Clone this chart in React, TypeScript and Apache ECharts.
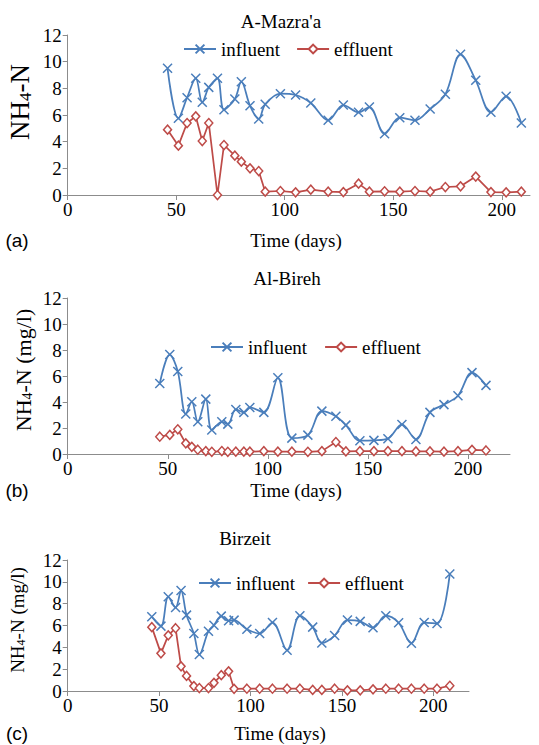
import React, { useEffect, useRef } from "react";
import * as echarts from "echarts";

const days = [46, 51, 55, 59, 62, 65, 69, 72, 77, 80, 84, 88, 91, 98, 105, 112, 120, 127, 134, 139, 146, 153, 160, 167, 174, 181, 188, 195, 202, 209];
const xTicks = [0, 50, 100, 150, 200];

const mazraaInfluent = [9.5, 5.75, 7.3, 8.75, 6.95, 8.07, 8.75, 6.4, 7.2, 8.5, 6.7, 5.7, 6.8, 7.6, 7.5, 6.9, 5.6, 6.75, 6.2, 6.6, 4.6, 5.8, 5.6, 6.45, 7.55, 10.55, 8.6, 6.2, 7.4, 5.4];
const mazraaEffluent = [4.9, 3.7, 5.4, 5.9, 4.05, 5.4, 0, 3.75, 2.95, 2.5, 2.0, 1.8, 0.25, 0.3, 0.2, 0.4, 0.25, 0.22, 0.85, 0.25, 0.28, 0.25, 0.3, 0.25, 0.6, 0.65, 1.38, 0.22, 0.2, 0.25];

const birehInfluent = [5.42, 7.65, 6.35, 3.07, 4.02, 2.48, 4.22, 1.84, 2.48, 2.3, 3.43, 3.2, 3.58, 3.2, 5.86, 1.22, 1.45, 3.3, 2.9, 2.22, 1.02, 1.05, 1.18, 2.27, 1.12, 3.2, 3.8, 4.48, 6.26, 5.28];
const birehEffluent = [1.33, 1.47, 1.9, 0.82, 0.55, 0.33, 0.22, 0.17, 0.23, 0.17, 0.18, 0.18, 0.18, 0.22, 0.18, 0.18, 0.17, 0.22, 0.92, 0.2, 0.22, 0.22, 0.22, 0.22, 0.2, 0.2, 0.18, 0.22, 0.32, 0.27];

const birzeitInfluent = [6.8, 5.94, 8.63, 7.65, 9.2, 6.95, 5.27, 3.34, 5.48, 6.03, 6.86, 6.43, 6.49, 5.66, 5.27, 6.27, 3.73, 6.9, 5.85, 4.4, 5.08, 6.5, 6.38, 5.8, 6.9, 6.25, 4.38, 6.27, 6.18, 10.72];
const birzeitEffluent = [5.85, 3.45, 5.1, 5.75, 2.26, 1.38, 0.45, 0.27, 0.27, 0.75, 1.45, 1.8, 0.2, 0.21, 0.21, 0.21, 0.21, 0.21, 0.1, 0.1, 0.21, 0.06, 0.06, 0.15, 0.21, 0.21, 0.21, 0.21, 0.21, 0.48];

const BLUE = "#4A7EBB";
const RED = "#BE4B48";
const AXIS = "#8C8C8C";
const SERIF = "Liberation Serif";
const SANS = "Liberation Sans";
const FS = 19;

const pairs = (ys: number[]) => days.map((d, i) => [d, ys[i]]);

const panels = [
  { grid: { left: 67.7, top: 35, height: 160, width: 462.3 }, xMax: 213, inf: mazraaInfluent, eff: mazraaEffluent },
  { grid: { left: 67.7, top: 298, height: 156, width: 442.3 }, xMax: 221, inf: birehInfluent, eff: birehEffluent },
  { grid: { left: 67.7, top: 560, height: 131, width: 401.3 }, xMax: 219.5, inf: birzeitInfluent, eff: birzeitEffluent },
];

const legends = [
  { left: 183, top: 39, itemGap: 16 },
  { left: 210, top: 337, itemGap: 17 },
  { left: 198, top: 573, itemGap: 12 },
];

const XSYM = "path://M0,0L10,10M0,10L10,0";

const css =
  '#chart-root svg text:not([style*="Liberation Sans"]):not([font-family*="Liberation Sans"]) { font-family: "Liberation Serif", serif !important; }';

function yName(x: number, y: number, unit: string, fs: number) {
  return {
    type: "text",
    x,
    y,
    rotation: Math.PI / 2,
    style: {
      text: "NH{s|4}-N" + unit,
      fontSize: fs,
      fontFamily: SERIF,
      fill: "#000",
      align: "center",
      verticalAlign: "middle",
      rich: {
        s: { fontSize: Math.round(fs * 0.62), fontFamily: SERIF, verticalAlign: "bottom", padding: [Math.round(fs * 0.4), 0, 0, 0] },
      },
    },
  };
}

function txt(text: string, x: number, y: number, font = SERIF) {
  return {
    type: "text",
    x,
    y,
    style: { text, fontSize: FS, fontFamily: font, fill: "#000", align: "center", verticalAlign: "middle" },
  };
}

export default function App() {
  const ref = useRef<HTMLDivElement>(null);
  useEffect(() => {
    if (!ref.current) return;
    const theme = { textStyle: { fontFamily: SERIF } };
    const chart = echarts.init(ref.current, theme as any, { renderer: "svg" });
    const series: any[] = [];
    panels.forEach((p, i) => {
      series.push({
        type: "line",
        name: "influent",
        xAxisIndex: i,
        yAxisIndex: i,
        data: pairs(p.inf),
        smooth: 0.35,
        symbol: XSYM,
        symbolSize: 9,
        lineStyle: { color: BLUE, width: 1.75 },
        itemStyle: { color: BLUE, borderColor: BLUE, borderWidth: 1.5 },
      });
      series.push({
        type: "line",
        name: "effluent",
        xAxisIndex: i,
        yAxisIndex: i,
        data: pairs(p.eff),
        smooth: false,
        symbol: "diamond",
        symbolSize: [8, 9],
        lineStyle: { color: RED, width: 1.75 },
        itemStyle: { color: "#fff", borderColor: RED, borderWidth: 1.5 },
      });
    });
    const option: any = {
      animation: false,
      backgroundColor: "#fff",
      textStyle: { fontFamily: SERIF, fontSize: FS, color: "#000" },
      grid: panels.map((p) => ({ ...p.grid, containLabel: false })),
      xAxis: panels.map((p, i) => ({
        type: "value",
        gridIndex: i,
        min: 0,
        max: p.xMax,
        interval: 50,
        splitLine: { show: false },
        axisLine: { lineStyle: { color: AXIS, width: 1 } },
        axisTick: { show: true, length: 5, lineStyle: { color: AXIS }, customValues: xTicks },
        axisLabel: {
          customValues: xTicks,
          color: "#000",
          fontSize: FS,
          fontFamily: SERIF,
          margin: 5,
          formatter: (v: number) => (v % 50 === 0 ? String(v) : ""),
        },
      })),
      yAxis: panels.map((p, i) => ({
        type: "value",
        gridIndex: i,
        min: 0,
        max: 12,
        interval: 2,
        splitLine: { show: false },
        axisLine: { show: true, lineStyle: { color: AXIS, width: 1 } },
        axisTick: { show: true, length: 5, lineStyle: { color: AXIS } },
        axisLabel: { color: "#000", fontSize: FS, fontFamily: SERIF, margin: 6 },
      })),
      legend: legends.map((l) => ({
        data: ["influent", "effluent"],
        left: l.left,
        top: l.top,
        itemGap: l.itemGap,
        itemWidth: 32,
        itemHeight: 11,
        padding: 0,
        selectedMode: false,
        textStyle: { color: "#000", fontSize: FS, fontFamily: SERIF, lineHeight: 20 },
      })),
      graphic: [
        txt("A-Mazra'a", 281, 21),
        txt("Al-Bireh", 287, 278),
        txt("Birzeit", 245, 538),
        txt("Time (days)", 296, 240),
        txt("Time (days)", 296, 490),
        txt("Time (days)", 280, 733),
        txt("(a)", 17, 240, SANS),
        txt("(b)", 17, 490, SANS),
        txt("(c)", 17, 733, SANS),
        yName(20, 102, "", 27),
        yName(23, 370, " (mg/l)", 22),
        yName(17, 620, " (mg/l)", 19),
      ],
      series,
    };
    chart.setOption(option);
    return () => chart.dispose();
  }, []);
  return (
    <>
      <style>{css}</style>
      <div
        id="chart-root"
        ref={ref}
        style={{ position: "absolute", left: 0, top: 0, width: 539, height: 745, background: "#fff" }}
      />
    </>
  );
}
